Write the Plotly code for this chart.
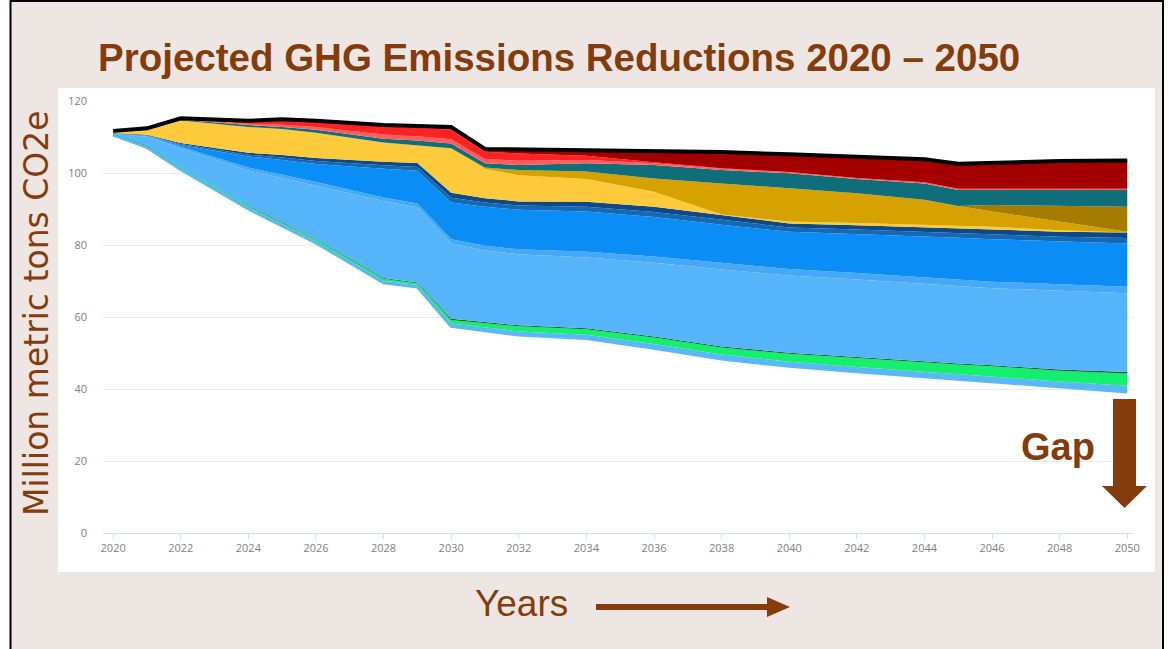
import plotly.graph_objects as go

# ---------------- data (million metric tons CO2e, stacked layer thicknesses) -------------
years = [2020, 2021, 2022, 2024, 2025, 2026, 2028, 2029, 2030, 2031, 2032,
         2034, 2036, 2038, 2040, 2042, 2044, 2045, 2046, 2048, 2050]

base      = [110.5, 107.1, 101.0, 90.0, 85.3, 80.6, 69.5, 68.3, 57.4, 56.2, 55.0,
             54.0, 51.3, 48.3, 46.3, 44.8, 43.4, 42.8, 42.1, 40.6, 39.2]
lt_blue   = [0.2, 0.3, 0.4, 0.5, 0.5, 0.5, 0.6, 0.6, 0.8, 0.9, 1.0,
             1.1, 1.2, 1.3, 1.3, 1.3, 1.3, 1.3, 1.4, 1.5, 1.7]
green     = [0.1, 0.2, 0.2, 0.3, 0.3, 0.4, 0.5, 0.5, 1.0, 1.2, 1.4,
             1.5, 1.8, 1.9, 2.2, 2.5, 2.6, 2.7, 2.8, 3.0, 3.4]
dk_green  = [0.1, 0.1, 0.1, 0.2, 0.2, 0.2, 0.2, 0.2, 0.3, 0.3, 0.3,
             0.3, 0.3, 0.3, 0.3, 0.3, 0.3, 0.3, 0.3, 0.3, 0.4]
sky_blue  = [0.0, 2.4, 5.1, 9.7, 12.3, 14.8, 21.4, 20.9, 20.9, 19.9, 19.7,
             19.6, 20.5, 21.4, 21.4, 21.5, 21.6, 21.5, 21.4, 21.9, 21.9]
sky_blue2 = [0.0, 0.3, 0.5, 0.8, 0.9, 1.0, 1.0, 1.0, 1.2, 1.3, 1.4,
             1.6, 1.7, 1.8, 1.8, 1.8, 1.8, 1.8, 1.8, 1.8, 1.8]
mid_blue  = [0.0, 0.0, 0.5, 3.1, 4.1, 5.0, 8.0, 9.1, 10.2, 10.8, 11.0,
             11.2, 11.0, 10.6, 10.4, 10.9, 11.4, 11.6, 11.8, 11.8, 12.0]
dk_blue1  = [0.1, 0.1, 0.25, 0.5, 0.7, 0.85, 0.95, 1.1, 1.35, 1.2, 1.15,
             1.35, 1.4, 1.35, 1.15, 1.2, 1.25, 1.3, 1.35, 1.4, 1.55]
dk_blue2  = [0.1, 0.1, 0.25, 0.5, 0.7, 0.85, 0.95, 1.1, 1.35, 1.2, 1.15,
             1.35, 1.4, 1.35, 1.15, 1.2, 1.25, 1.3, 1.35, 1.4, 1.55]
yellow    = [0.2, 1.4, 6.3, 7.2, 7.2, 7.0, 5.4, 5.0, 12.4, 8.2, 7.3,
             6.3, 4.2, 0.2, 0.5, 0.6, 0.7, 0.8, 0.8, 0.4, 0.0]
dk_gold   = [0.0, 0.0, 0.0, 0.0, 0.0, 0.0, 0.0, 0.0, 0.0, 0.3, 1.4,
             2.1, 3.7, 8.6, 9.2, 8.3, 7.0, 5.4, 4.2, 2.4, 0.2]
olive     = [0.0, 0.0, 0.0, 0.0, 0.0, 0.0, 0.0, 0.0, 0.0, 0.0, 0.0,
             0.0, 0.0, 0.0, 0.0, 0.0, 0.0, 0.0, 1.8, 4.3, 6.9]
teal      = [0.1, 0.1, 0.2, 0.5, 0.6, 0.8, 1.0, 1.2, 1.3, 1.2, 1.4,
             2.3, 3.7, 3.7, 4.2, 3.9, 4.5, 4.5, 4.2, 4.5, 4.7]
salmon    = [0.1, 0.1, 0.1, 0.4, 0.6, 0.8, 1.2, 1.2, 1.2, 1.2, 1.2,
             0.9, 0.5, 0.4, 0.3, 0.3, 0.3, 0.3, 0.3, 0.3, 0.3]
red       = [0.1, 0.1, 0.2, 0.6, 1.3, 1.5, 2.2, 2.4, 2.6, 2.0, 2.0,
             1.2, 0.3, 0.1, 0.1, 0.0, 0.0, 0.0, 0.0, 0.0, 0.0]
dk_red    = [0.1, 0.1, 0.1, 0.2, 0.2, 0.2, 0.4, 0.5, 0.8, 0.8, 1.2,
             1.6, 3.1, 4.5, 4.9, 5.8, 6.4, 7.0, 7.3, 7.7, 7.9]

y_ticks = [0, 20, 40, 60, 80, 100, 120]
x_ticks = list(range(2020, 2051, 2))

layers = [
    ("Light blue", lt_blue, "#5BB8F6"),
    ("Green", green, "#14EF6C"),
    ("Dark green", dk_green, "#0C5F30"),
    ("Sky blue", sky_blue, "#56B4FB"),
    ("Sky blue 2", sky_blue2, "#46A8F6"),
    ("Mid blue", mid_blue, "#0A8EF6"),
    ("Dark blue 1", dk_blue1, "#1468B6"),
    ("Dark blue 2", dk_blue2, "#0B4A86"),
    ("Yellow", yellow, "#FDCA3C"),
    ("Dark gold", dk_gold, "#D6A200"),
    ("Olive", olive, "#A67C00"),
    ("Teal", teal, "#0F6E7A"),
    ("Salmon", salmon, "#FF5C5C"),
    ("Red", red, "#FF2222"),
    ("Dark red", dk_red, "#A50000"),
]

BROWN = "#843C0C"

fig = go.Figure()
fig.add_trace(go.Scatter(x=years, y=base, stackgroup="s", mode="lines",
                         line=dict(color="#5BB8F6", width=3),
                         fillcolor="rgba(0,0,0,0)", name="Remaining",
                         showlegend=False, hoverinfo="skip"))
for i, (name, vals, col) in enumerate(layers):
    last = i == len(layers) - 1
    fig.add_trace(go.Scatter(
        x=years, y=vals, stackgroup="s", mode="lines", name=name,
        line=dict(color="#000000" if last else col, width=4 if last else 0),
        fillcolor=col, showlegend=False, hoverinfo="skip"))

# ---------------- layout helpers (pixel -> paper) ----------------
W, H = 1172, 649
L, R, T, B = 103, 1133, 101, 533


def px(x):
    return (x - L) / (R - L)


def py(y):
    return (B - y) / (B - T)


def path(points):
    s = "M " + " L ".join(f"{px(a):.5f},{py(b):.5f}" for a, b in points) + " Z"
    return s


shapes = [
    # white margins outside slide border
    dict(type="rect", xref="paper", yref="paper", x0=px(0), x1=px(10), y0=py(0), y1=py(H),
         fillcolor="white", line_width=0, layer="below"),
    dict(type="rect", xref="paper", yref="paper", x0=px(1164), x1=px(W), y0=py(0), y1=py(H),
         fillcolor="white", line_width=0, layer="below"),
    # white chart panel
    dict(type="rect", xref="paper", yref="paper", x0=px(58), x1=px(1155), y0=py(88), y1=py(572),
         fillcolor="white", line_width=0, layer="below"),
    # slide border
    dict(type="line", xref="paper", yref="paper", x0=px(10.5), x1=px(10.5), y0=py(0), y1=py(H),
         line=dict(color="black", width=2), layer="above"),
    dict(type="line", xref="paper", yref="paper", x0=px(1163), x1=px(1163), y0=py(0), y1=py(H),
         line=dict(color="black", width=2), layer="above"),
    dict(type="line", xref="paper", yref="paper", x0=px(10), x1=px(1164), y0=py(1), y1=py(1),
         line=dict(color="black", width=2), layer="above"),
    # Gap arrow
    dict(type="path", xref="paper", yref="paper",
         path=path([(1113, 399), (1136, 399), (1136, 486), (1147, 486), (1124.5, 508), (1102, 486), (1113, 486)]),
         fillcolor=BROWN, line_width=0, layer="above"),
    # Years arrow
    dict(type="path", xref="paper", yref="paper",
         path=path([(596, 604), (767, 604), (767, 597), (790, 607), (767, 617), (767, 610), (596, 610)]),
         fillcolor=BROWN, line_width=0, layer="above"),
]

annotations = [
    dict(text="<b>Projected GHG Emissions Reductions 2020 – 2050</b>", xref="paper", yref="paper",
         x=px(96), y=py(57), xanchor="left", yanchor="middle", showarrow=False,
         font=dict(family="Liberation Sans, Arial", size=38.5, color=BROWN)),
    dict(text="Million metric tons CO2e", xref="paper", yref="paper",
         x=px(36), y=py(313), xanchor="center", yanchor="middle", textangle=-90, showarrow=False,
         font=dict(family="DejaVu Sans, Open Sans", size=33, color=BROWN)),
    dict(text="Years", xref="paper", yref="paper",
         x=px(521), y=py(603), xanchor="center", yanchor="middle", showarrow=False,
         font=dict(family="Liberation Sans, Arial", size=37, color=BROWN)),
    dict(text="<b>Gap</b>", xref="paper", yref="paper",
         x=px(1058), y=py(447), xanchor="center", yanchor="middle", showarrow=False,
         font=dict(family="Liberation Sans, Arial", size=38, color=BROWN)),
]

fig.update_layout(
    width=W, height=H,
    margin=dict(l=L, r=W - R, t=T, b=H - B),
    paper_bgcolor="#EEE6E2", plot_bgcolor="white",
    shapes=shapes, annotations=annotations, showlegend=False,
    xaxis=dict(range=[2019.7, 2050.17], tickmode="array", tickvals=x_ticks,
               showgrid=False, zeroline=False, showline=True, linecolor="#D5DCEA", linewidth=1,
               ticks="outside", ticklen=5, tickcolor="#D5DCEA",
               tickfont=dict(family="Open Sans, Lato", size=11, color="#7F7F7F"), fixedrange=True),
    yaxis=dict(range=[0, 120], tickmode="array", tickvals=y_ticks,
               showgrid=True, gridcolor="#EBEBEB", gridwidth=1, zeroline=False, showline=False,
               ticks="", ticklabelstandoff=15,
               tickfont=dict(family="Open Sans, Lato", size=11, color="#7F7F7F"), fixedrange=True),
)

fig.write_html("out.html", config={"displayModeBar": False},
               post_script="document.body.style.margin='0';document.body.style.overflow='hidden';")
